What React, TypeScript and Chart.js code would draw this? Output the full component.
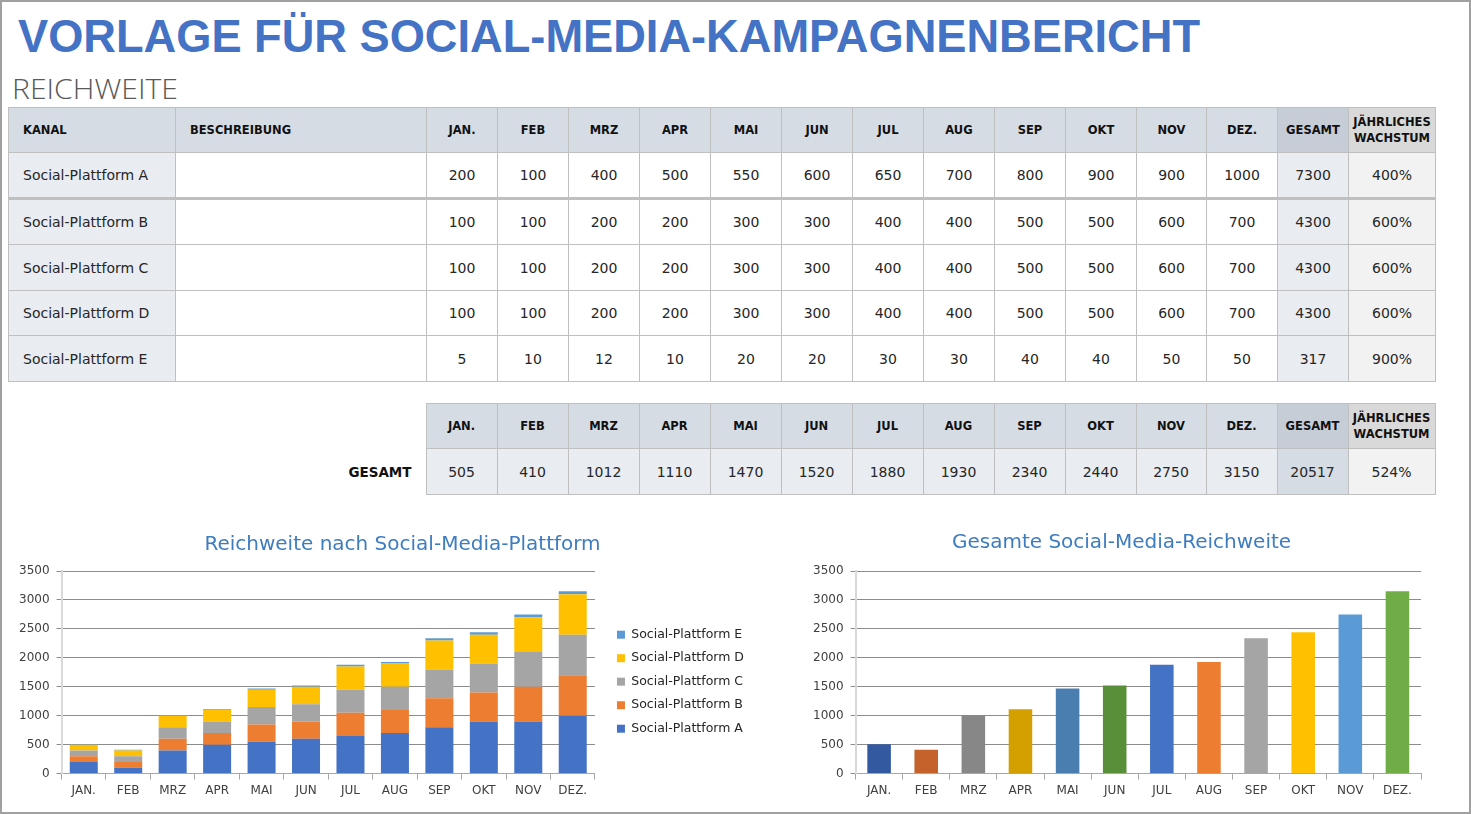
import React, { useEffect, useRef } from "react";
import { Chart, registerables } from "chart.js";

Chart.register(...registerables);

const MONTHS = ["JAN.", "FEB", "MRZ", "APR", "MAI", "JUN", "JUL", "AUG", "SEP", "OKT", "NOV", "DEZ."];
const PLATFORMS = ["Social-Plattform A", "Social-Plattform B", "Social-Plattform C", "Social-Plattform D", "Social-Plattform E"];
const PLATFORM_A = [200, 100, 400, 500, 550, 600, 650, 700, 800, 900, 900, 1000];
const PLATFORM_B = [100, 100, 200, 200, 300, 300, 400, 400, 500, 500, 600, 700];
const PLATFORM_C = [100, 100, 200, 200, 300, 300, 400, 400, 500, 500, 600, 700];
const PLATFORM_D = [100, 100, 200, 200, 300, 300, 400, 400, 500, 500, 600, 700];
const PLATFORM_E = [5, 10, 12, 10, 20, 20, 30, 30, 40, 40, 50, 50];
const ROW_TOTALS = [7300, 4300, 4300, 4300, 317];
const ROW_GROWTH = ["400%", "600%", "600%", "600%", "900%"];
const MONTH_TOTALS = [505, 410, 1012, 1110, 1470, 1520, 1880, 1930, 2340, 2440, 2750, 3150];
const GRAND_TOTAL = 20517;
const GRAND_GROWTH = "524%";
const Y_TICKS = [0, 500, 1000, 1500, 2000, 2500, 3000, 3500];

const SERIES_COLORS = ["#4472C4", "#ED7D31", "#A5A5A5", "#FFC000", "#5B9BD5"];
const TOTAL_COLORS = ["#335AA1", "#C5612A", "#878787", "#D4A000", "#4A7EB0", "#5A8F3A", "#4472C4", "#ED7D31", "#A5A5A5", "#FFC000", "#5B9BD5", "#70AD47"];

const FONT = "'DejaVu Sans', sans-serif";
const HEAD_BG = "#D6DCE4";
const HEAD_DARK = "#C6CDD7";
const HEAD_GRAY = "#D9D9D9";
const LIGHT = "#E9ECF1";
const LIGHT_GRAY = "#F2F2F2";
const BORDER = "1px solid #BFBFBF";

const colW = [167, 251, 71, 71, 71, 71, 71, 71, 71, 71, 71, 71, 70, 71, 71, 87];

function yScale() {
  return {
    stacked: true,
    min: 0,
    max: 3500,
    afterBuildTicks: (axis: any) => {
      axis.ticks = Y_TICKS.map((v) => ({ value: v }));
    },
    ticks: {
      font: { family: FONT, size: 12 },
      color: "#404040",
      padding: 7,
      callback: (v: any) => String(v),
    },
    grid: { color: "#8C8C8C", lineWidth: 1, tickLength: 5 },
    border: { color: "#D9D9D9", width: 2 },
  };
}

function xScale(stacked: boolean) {
  return {
    stacked,
    grid: { display: true, drawOnChartArea: false, offset: true, tickLength: 6, color: "#A6A6A6" },
    border: { color: "#A6A6A6", width: 1 },
    ticks: { font: { family: FONT, size: 12 }, color: "#404040", padding: 4 },
  };
}

// nudges legend / title boxes horizontally, as placed in the reference
function nudge(legendDx: number, titleDx: number) {
  return {
    id: "nudge",
    afterLayout(chart: any) {
      const lg = chart.legend;
      if (lg && legendDx) {
        lg.left += legendDx;
        lg.right += legendDx;
      }
      const tb = chart.titleBlock;
      if (tb && titleDx) {
        tb.left += titleDx;
        tb.right += titleDx;
      }
    },
  };
}

export default function App() {
  const ref1 = useRef<HTMLCanvasElement>(null);
  const ref2 = useRef<HTMLCanvasElement>(null);

  useEffect(() => {
    document.body.style.margin = "0";
    const series = [PLATFORM_A, PLATFORM_B, PLATFORM_C, PLATFORM_D, PLATFORM_E];
    const c1 = new Chart(ref1.current!, {
      type: "bar",
      data: {
        labels: MONTHS,
        datasets: series.map((d, i) => ({
          label: PLATFORMS[i],
          data: d,
          backgroundColor: SERIES_COLORS[i],
          borderWidth: 0,
          barPercentage: 0.63,
          categoryPercentage: 1,
        })),
      },
      plugins: [nudge(11, 25)],
      options: {
        animation: false,
        responsive: false,
        maintainAspectRatio: false,
        layout: { padding: { left: 4, right: 55, top: 0, bottom: 0 } },
        plugins: {
          title: {
            display: true,
            text: "Reichweite nach Social-Media-Plattform",
            color: "#3E7CC0",
            font: { family: FONT, size: 20, weight: "normal" },
            padding: { top: 8, bottom: 14 },
          },
          legend: {
            position: "right",
            reverse: true,
            title: { display: true, text: " ", font: { size: 12 }, padding: 11 },
            labels: {
              boxWidth: 8,
              boxHeight: 8,
              padding: 11,
              color: "#262626",
              font: { family: FONT, size: 12.5 },
            },
          },
          tooltip: { enabled: false },
        },
        scales: {
          x: xScale(true) as any,
          y: yScale() as any,
        },
      },
    });
    const c2 = new Chart(ref2.current!, {
      type: "bar",
      data: {
        labels: MONTHS,
        datasets: [
          {
            label: "Gesamt",
            data: MONTH_TOTALS,
            backgroundColor: TOTAL_COLORS,
            barPercentage: 0.5,
            categoryPercentage: 1,
          },
        ],
      },
      plugins: [nudge(0, 8)],
      options: {
        animation: false,
        responsive: false,
        maintainAspectRatio: false,
        layout: { padding: { left: 1, right: 16, top: 0, bottom: 0 } },
        plugins: {
          title: {
            display: true,
            text: "Gesamte Social-Media-Reichweite",
            color: "#3E7CC0",
            font: { family: FONT, size: 20, weight: "normal" },
            padding: { top: 8, bottom: 16 },
          },
          legend: { display: false },
          tooltip: { enabled: false },
        },
        scales: { x: xScale(false) as any, y: yScale() as any },
      },
    });
    return () => {
      c1.destroy();
      c2.destroy();
    };
  }, []);

  const th = (bg: string, extra: React.CSSProperties = {}): React.CSSProperties => ({
    background: bg,
    border: BORDER,
    fontWeight: "bold",
    fontSize: 11.5,
    color: "#111",
    textAlign: "center",
    padding: 0,
    lineHeight: "16px",
    ...extra,
  });
  const td = (bg: string, extra: React.CSSProperties = {}): React.CSSProperties => ({
    background: bg,
    border: BORDER,
    fontSize: 14,
    color: "#262626",
    textAlign: "center",
    padding: 0,
    ...extra,
  });

  const rows = [PLATFORM_A, PLATFORM_B, PLATFORM_C, PLATFORM_D, PLATFORM_E];
  const rowH = [46, 46, 46, 45, 46];

  return (
    <div
      style={{
        position: "absolute",
        left: 0,
        top: 0,
        width: 1471,
        height: 814,
        background: "#fff",
        boxSizing: "border-box",
        border: "2px solid #A0A0A0",
        fontFamily: FONT,
        overflow: "hidden",
      }}
    >
      <svg width={1471} height={110} style={{ position: "absolute", left: -2, top: -2 }}>
        <text
          x={18}
          y={52}
          textLength={1182}
          lengthAdjust="spacingAndGlyphs"
          fill="#4472C4"
          style={{ fontFamily: "'Liberation Sans', Arial, sans-serif", fontWeight: "bold", fontSize: 47 }}
        >
          VORLAGE FÜR SOCIAL-MEDIA-KAMPAGNENBERICHT
        </text>
        <text
          x={12}
          y={99}
          textLength={166}
          lengthAdjust="spacingAndGlyphs"
          fill="#595959"
          style={{ fontFamily: "'Open Sans', sans-serif", fontWeight: 300, fontSize: 28 }}
        >
          REICHWEITE
        </text>
      </svg>

      <table
        style={{
          position: "absolute",
          left: 6,
          top: 105,
          borderCollapse: "collapse",
          tableLayout: "fixed",
          width: colW.reduce((a, b) => a + b, 0),
        }}
      >
        <colgroup>
          {colW.map((w, i) => (
            <col key={i} style={{ width: w }} />
          ))}
        </colgroup>
        <tbody>
          <tr style={{ height: 45 }}>
            <th style={th(HEAD_BG, { textAlign: "left", paddingLeft: 14 })}>KANAL</th>
            <th style={th(HEAD_BG, { textAlign: "left", paddingLeft: 14 })}>BESCHREIBUNG</th>
            {MONTHS.map((m) => (
              <th key={m} style={th(HEAD_BG)}>
                {m}
              </th>
            ))}
            <th style={th(HEAD_DARK)}>GESAMT</th>
            <th style={th(HEAD_GRAY)}>
              JÄHRLICHES
              <br />
              WACHSTUM
            </th>
          </tr>
          {rows.map((r, i) => (
            <tr key={i} style={{ height: rowH[i] }}>
              <td
                style={td(LIGHT, {
                  textAlign: "left",
                  paddingLeft: 14,
                  borderBottom: i === 0 ? "3px solid #BFBFBF" : BORDER,
                })}
              >
                {PLATFORMS[i]}
              </td>
              <td style={td("#FFFFFF", { borderBottom: i === 0 ? "3px solid #BFBFBF" : BORDER })}></td>
              {r.map((v, j) => (
                <td key={j} style={td("#FFFFFF", { borderBottom: i === 0 ? "3px solid #BFBFBF" : BORDER })}>
                  {v}
                </td>
              ))}
              <td style={td(LIGHT, { borderBottom: i === 0 ? "3px solid #BFBFBF" : BORDER })}>{ROW_TOTALS[i]}</td>
              <td style={td(LIGHT_GRAY, { borderBottom: i === 0 ? "3px solid #BFBFBF" : BORDER })}>{ROW_GROWTH[i]}</td>
            </tr>
          ))}
        </tbody>
      </table>

      <table
        style={{
          position: "absolute",
          left: 6,
          top: 401,
          borderCollapse: "collapse",
          tableLayout: "fixed",
          width: colW.reduce((a, b) => a + b, 0),
        }}
      >
        <colgroup>
          {colW.map((w, i) => (
            <col key={i} style={{ width: w }} />
          ))}
        </colgroup>
        <tbody>
          <tr style={{ height: 45 }}>
            <td colSpan={2} style={{ border: "none" }}></td>
            {MONTHS.map((m) => (
              <th key={m} style={th(HEAD_BG)}>
                {m}
              </th>
            ))}
            <th style={th(HEAD_DARK)}>GESAMT</th>
            <th style={th(HEAD_GRAY)}>
              JÄHRLICHES
              <br />
              WACHSTUM
            </th>
          </tr>
          <tr style={{ height: 46 }}>
            <td
              colSpan={2}
              style={{ border: "none", textAlign: "right", paddingRight: 14, fontWeight: "bold", fontSize: 13.5, color: "#111" }}
            >
              GESAMT
            </td>
            {MONTH_TOTALS.map((v, j) => (
              <td key={j} style={td(LIGHT)}>
                {v}
              </td>
            ))}
            <td style={td(HEAD_BG)}>{GRAND_TOTAL}</td>
            <td style={td(LIGHT_GRAY)}>{GRAND_GROWTH}</td>
          </tr>
        </tbody>
      </table>

      <canvas
        ref={ref1}
        width={790}
        height={277}
        style={{ position: "absolute", left: 6, top: 523, width: 790, height: 277 }}
      />
      <canvas
        ref={ref2}
        width={632}
        height={279}
        style={{ position: "absolute", left: 803, top: 521, width: 632, height: 279 }}
      />
    </div>
  );
}
